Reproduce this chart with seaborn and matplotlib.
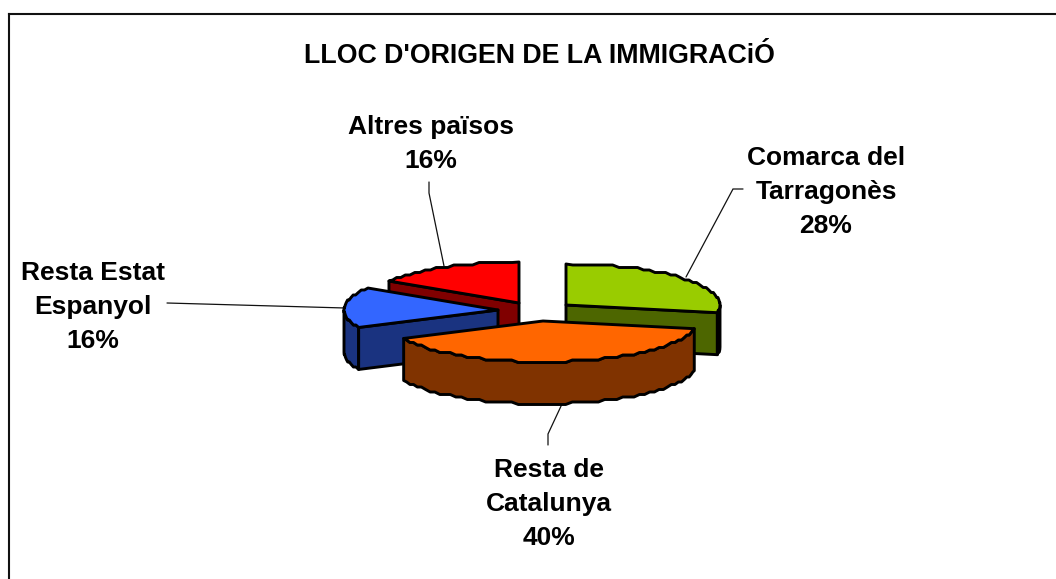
import numpy as np
import matplotlib
matplotlib.use("Agg")
import matplotlib.pyplot as plt
import seaborn as sns

# Dades
categories = ["Comarca del\nTarragonès", "Resta de\nCatalunya", "Resta Estat\nEspanyol", "Altres països"]
shares = [28, 40, 16, 16]
title = "LLOC D'ORIGEN DE LA IMMIGRACiÓ"

top_colors = ["#99CC00", "#FF6600", "#3366FF", "#FF0000"]
side_colors = ["#4D6600", "#803300", "#1A3380", "#800000"]

# Posicio de cada sector (apex en pixels), el sector esta separat del centre
apex = [(566, 305), (543, 321), (498, 310), (519, 303)]
label_pos = [(826, 192), (549, 504), (93, 307), (431, 144)]
leaders = [
    [(743, 189), (733, 189), (686, 277)],
    [(562, 404), (548, 434), (548, 445)],
    [(167, 303), (345, 308)],
    [(429, 182), (429, 193), (444, 266)],
]

RX, RY, DEPTH = 154, 41, 42
EDGE = 2.1
FONT = ["Liberation Sans", "DejaVu Sans"]

sns.set_theme(style="white")
plt.rcParams["font.family"] = FONT

fig = plt.figure(figsize=(10.56, 5.79), dpi=100)
ax = fig.add_axes([8.7 / 1056, 0, 1 - 8.7 / 1056, 1 - 13.7 / 579])
ax.set_xlim(8.7, 1056)
ax.set_ylim(579, 13.7)
ax.set_xticks([])
ax.set_yticks([])
sns.despine(ax=ax, top=False, left=False, right=True, bottom=True)
for side in ["top", "left"]:
    ax.spines[side].set_color("#111111")
    ax.spines[side].set_linewidth(1.5)


def rim(cx, cy, a0, a1):
    # vora de l'el·lipse amb l'esglaonat de l'original
    n = max(2, int(abs(a1 - a0) / 2.5) + 1)
    t = np.radians(np.linspace(a0, a1, n))
    x = cx + RX * np.sin(t)
    y = cy - RY * np.cos(t)
    y[1:-1] = np.round(y[1:-1] / 2.5) * 2.5
    return x, y


def poly(x, y, color):
    ax.fill(x, y, facecolor=color, edgecolor="black", linewidth=EDGE, joinstyle="round", zorder=z[0])
    z[0] += 1


# Angles acumulats en sentit horari des de dalt
cum = np.cumsum([0] + shares) * 3.6
z = [2]
for i in [3, 2, 0, 1]:
    cx, cy = apex[i]
    a0, a1 = cum[i], cum[i + 1]

    # paret exterior visible (part de davant)
    w0, w1 = max(a0, 90), min(a1, 270)
    if w0 < w1:
        x, y = rim(cx, cy, w0, w1)
        poly(np.r_[x, x[::-1]], np.r_[y, y[::-1] + DEPTH], side_colors[i])

    # cara de tall visible
    if i != 1:
        cut = a1 if i == 0 else a0
        ex = cx + RX * np.sin(np.radians(cut))
        ey = cy - RY * np.cos(np.radians(cut))
        poly([cx, ex, ex, cx], [cy, ey, ey + DEPTH, cy + DEPTH], side_colors[i])

    # cara superior
    x, y = rim(cx, cy, a0, a1)
    poly(np.r_[cx, x], np.r_[cy, y], top_colors[i])

# Linies guia
for pts in leaders:
    xs, ys = zip(*pts)
    ax.plot(xs, ys, color="#111111", lw=0.9, zorder=1, solid_joinstyle="miter")

# Etiquetes
for name, share, (lx, ly) in zip(categories, shares, label_pos):
    ax.text(lx, ly, f"{name}\n{share}%", ha="center", va="center", fontsize=19,
            fontweight="bold", color="black", linespacing=1.55)

ax.text(539, 56, title, ha="center", va="center", fontsize=19.3, fontweight="bold", color="black")

fig.savefig("out.png", dpi=100)
